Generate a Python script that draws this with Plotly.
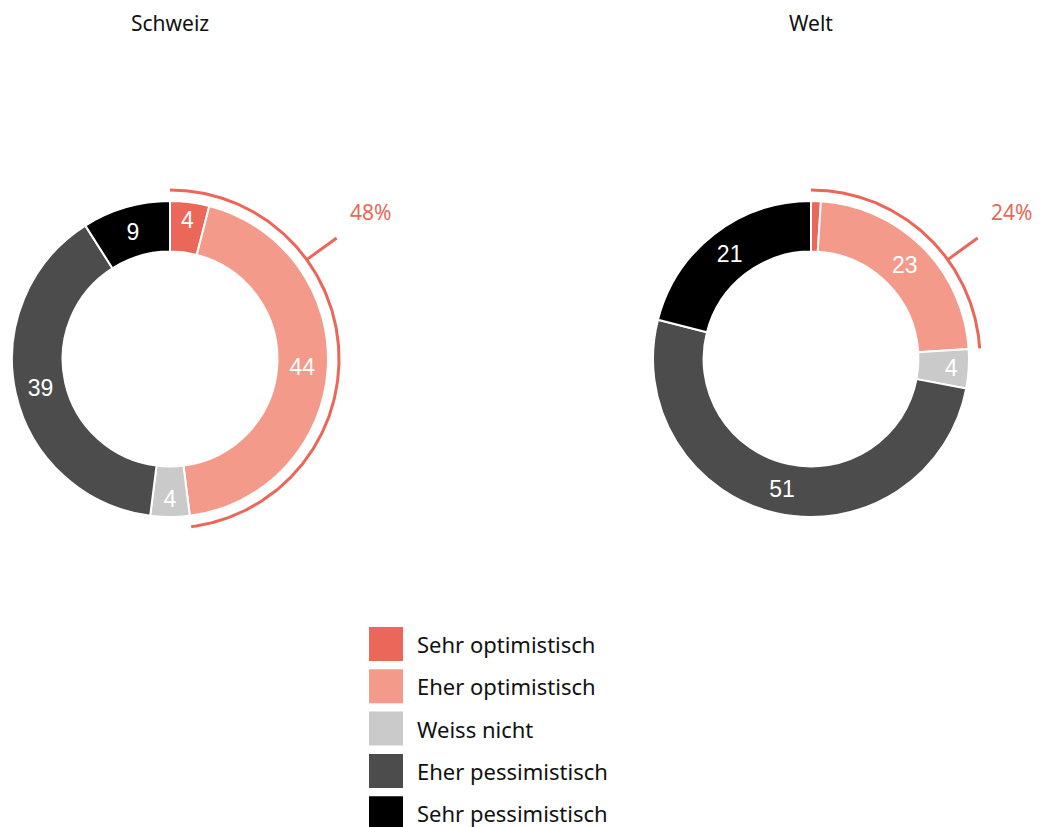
import numpy as np
import plotly.graph_objects as go

categories = ["Sehr optimistisch", "Eher optimistisch", "Weiss nicht",
              "Eher pessimistisch", "Sehr pessimistisch"]
schweiz = [4, 44, 4, 39, 9]
welt = [1, 23, 4, 51, 21]
titles = ["Schweiz", "Welt"]
colors = ["#EA6759", "#F39A8A", "#CACACA", "#4C4C4C", "#000000"]

W, H = 1040, 827
OFF = 8  # page body margin; positions below are in page pixels
R_OUT = 158
HOLE = 0.68
centers = [(170, 359), (811, 359)]
ACCENT = "#EA6759"
FONT = "Noto Sans"

fig = go.Figure()

# overlay axis in page-pixel space
fig.update_layout(
    xaxis=dict(range=[OFF, W + OFF], visible=False, fixedrange=True, domain=[0, 1]),
    yaxis=dict(range=[H + OFF, OFF], visible=False, fixedrange=True, domain=[0, 1]),
)

annotations = []
for name, vals, (cx, cy) in zip(titles, [schweiz, welt], centers):
    fx, fy = cx - OFF, cy - OFF
    dom_x = [(fx - R_OUT) / W, (fx + R_OUT) / W]
    dom_y = [(H - fy - R_OUT) / H, (H - fy + R_OUT) / H]
    fig.add_trace(go.Pie(
        labels=categories, values=vals, sort=False, direction="clockwise",
        rotation=0, hole=HOLE, domain=dict(x=dom_x, y=dom_y),
        marker=dict(colors=colors, line=dict(color="white", width=2)),
        text=[str(v) if v >= 3 else "" for v in vals], textinfo="text",
        textposition="inside", insidetextorientation="horizontal",
        insidetextfont=dict(color="white", size=23, family="Liberation Sans"),
        hoverinfo="label+value", showlegend=False,
    ))
    # arc around optimistic share
    opt = vals[0] + vals[1]
    t = np.linspace(0, opt / 100 * 2 * np.pi, 200)
    r_arc = 169
    fig.add_trace(go.Scatter(
        x=cx + r_arc * np.sin(t), y=cy - r_arc * np.cos(t), mode="lines",
        line=dict(color=ACCENT, width=3), hoverinfo="skip", showlegend=False))
    a = np.deg2rad(54)
    fig.add_trace(go.Scatter(
        x=[cx + 169 * np.sin(a), cx + 206 * np.sin(a)],
        y=[cy - 169 * np.cos(a), cy - 206 * np.cos(a)], mode="lines",
        line=dict(color=ACCENT, width=3), hoverinfo="skip", showlegend=False))
    annotations.append(dict(
        x=cx + 250 * np.sin(a) - 2, y=cy - 250 * np.cos(a), xref="x", yref="y",
        text=f"{opt}%", showarrow=False, xanchor="center", yanchor="middle",
        font=dict(color=ACCENT, size=21, family=FONT)))
    annotations.append(dict(
        x=cx, y=23, xref="x", yref="y", text=name, showarrow=False,
        xanchor="center", yanchor="middle",
        font=dict(color="#111111", size=21, family=FONT)))

# legend
leg_x, leg_y0, leg_dy = 386, 644, 42.3
leg_ys = [leg_y0 + i * leg_dy for i in range(len(categories))]
fig.add_trace(go.Scatter(
    x=[leg_x] * len(categories), y=leg_ys, mode="markers",
    marker=dict(symbol="square", size=34, color=colors, line=dict(width=0)),
    hoverinfo="skip", showlegend=False))
for cat, y in zip(categories, leg_ys):
    annotations.append(dict(
        x=415, y=y, xref="x", yref="y", text=cat, showarrow=False,
        xanchor="left", yanchor="middle",
        font=dict(color="#111111", size=22, family=FONT)))

fig.update_layout(
    width=W, height=H, margin=dict(l=0, r=0, t=0, b=0),
    paper_bgcolor="white", plot_bgcolor="white",
    annotations=annotations, showlegend=False,
)

fig.write_html("out.html")
